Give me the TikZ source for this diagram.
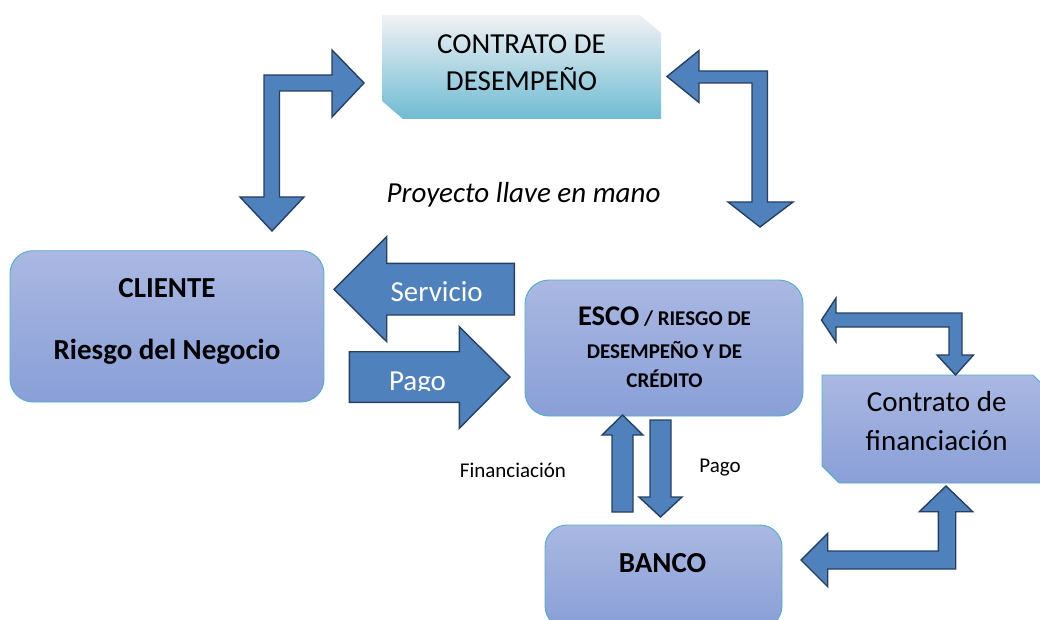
\documentclass[tikz,border=0pt]{standalone}
\usepackage{fontspec}
\setmainfont{Carlito}
\definecolor{arrowblue}{RGB}{79,129,189}
\definecolor{arrowedge}{RGB}{38,64,98}
\definecolor{boxtop}{RGB}{170,184,226}
\definecolor{boxbot}{RGB}{137,159,215}
\definecolor{boxedge}{RGB}{80,175,200}
\definecolor{ctop}{RGB}{241,242,244}
\definecolor{cmid}{RGB}{192,222,232}
\definecolor{cbot}{RGB}{111,187,211}
\tikzset{
  blockarrow/.style={fill=arrowblue, draw=arrowedge, line width=1.4pt, line join=miter},
  bluebox/.style={top color=boxtop, bottom color=boxbot, draw=boxedge, line width=0.9pt, inner sep=0pt},
  txt/.style={anchor=base, inner sep=0pt, font=\fontsize{29}{35}\selectfont},
  smalltxt/.style={anchor=base, inner sep=0pt, font=\fontsize{21}{25}\selectfont},
}
\begin{document}
\begin{tikzpicture}[x=1pt,y=-1pt]
\useasboundingbox (0,0) rectangle (1040,620);

% ---- boxes ----
\shade[top color=ctop, middle color=cmid, bottom color=cbot]
  (382,15) -- (640,15) -- (661,33) -- (661,119) -- (403,119) -- (382,101) -- cycle;
\node[bluebox, rounded corners=23pt, minimum width=314pt, minimum height=151.3pt] (cliente) at (167,326.35) {};
\node[bluebox, rounded corners=24pt, minimum width=278pt, minimum height=136pt] (esco) at (664,348) {};
\node[bluebox, rounded corners=22pt, minimum width=237pt, minimum height=103pt] (banco) at (663.5,576.5) {};
\path[top color=boxtop, bottom color=boxbot, draw=boxedge, line width=0.9pt]
  (822,375) -- (1033,375) -- (1050,392) -- (1050,483) -- (839,483) -- (822,466) -- cycle;

% ---- block arrows ----
% CLIENTE <-> CONTRATO DE DESEMPENO
\draw[blockarrow] (364,83) -- (332,50) -- (332,75) -- (264,75) -- (264,197) -- (240,197)
  -- (272,231) -- (304,197) -- (279.5,197) -- (279.5,91) -- (332,91) -- (332,117) -- cycle;
% CONTRATO DE DESEMPENO <-> ESCO
\draw[blockarrow] (667,76.5) -- (699,50.5) -- (699,71) -- (767.5,71) -- (767.5,202) -- (793,202)
  -- (760,227) -- (728,202) -- (752,202) -- (752,83) -- (699,83) -- (699,102.5) -- cycle;
% Servicio
\draw[blockarrow] (334,289.3) -- (386.7,236.7) -- (386.7,263.3) -- (514.3,263.3) -- (514.3,315)
  -- (386.7,315) -- (386.7,341.7) -- cycle;
% Pago
\draw[blockarrow] (349.3,351.7) -- (459.3,351.7) -- (459.3,326.7) -- (510,377) -- (459.3,428.3)
  -- (459.3,402.3) -- (349.3,402.3) -- cycle;
% Financiacion (up)
\draw[blockarrow] (622.5,415) -- (643,435) -- (633,435) -- (633,512) -- (612,512) -- (612,435)
  -- (602,435) -- cycle;
% Pago (down)
\draw[blockarrow] (660.5,517) -- (682,497) -- (671,497) -- (671,420) -- (650,420) -- (650,497)
  -- (639,497) -- cycle;
% ESCO <-> Contrato de financiacion
\draw[blockarrow] (821.5,320) -- (836,298) -- (836,313) -- (962,313) -- (962,355) -- (973.5,355)
  -- (955.5,375) -- (937,355) -- (949,355) -- (949,327) -- (836,327) -- (836,342) -- cycle;
% BANCO <-> Contrato de financiacion
\draw[blockarrow] (801,560) -- (827.7,533.3) -- (827.7,551) -- (938.3,551) -- (938.3,511.7)
  -- (919.3,511.7) -- (946,486) -- (972.7,511.7) -- (955.7,511.7) -- (955.7,569) -- (827.7,569)
  -- (827.7,586.7) -- cycle;

% ---- texts ----
\node[txt] (cd1) at (521.5,53.3) {CONTRATO DE};
\node[txt] (cd2) at (521.5,90.7) {DESEMPEÑO};
\node[txt, font=\fontsize{29}{35}\selectfont\itshape] (llave) at (523.5,203) {Proyecto llave en mano};
\node[txt, font=\fontsize{29}{35}\selectfont\bfseries] (cl1) at (167,297) {CLIENTE};
\node[txt, font=\fontsize{29}{35}\selectfont\bfseries] (cl2) at (167,359) {Riesgo del Negocio};
\node[txt, text=white] (serv) at (436.7,301.7) {Servicio};
\begin{scope}
  \clip (370,330) rectangle (470,390.6);
  \node[txt, text=white] (pagoa) at (417.5,390) {Pago};
\end{scope}
\node[smalltxt, font=\bfseries] (es1) at (664.5,325.5)
  {{\fontsize{28.5}{34}\selectfont ESCO}{\fontsize{21}{25}\selectfont\ / RIESGO DE}};
\node[smalltxt, font=\fontsize{21}{25}\selectfont\bfseries] (es2) at (664.5,358) {DESEMPEÑO Y DE};
\node[smalltxt, font=\fontsize{21}{25}\selectfont\bfseries] (es3) at (664.5,387.6) {CRÉDITO};
\node[txt] (cf1) at (936.7,411.7) {Contrato de};
\node[txt] (cf2) at (936.7,450) {financiación};
\node[txt, font=\fontsize{29}{35}\selectfont\bfseries] (bco) at (662.5,572.7) {BANCO};
\node[smalltxt] (fin) at (513,477) {Financiación};
\node[smalltxt] (pagob) at (720,472) {Pago};
\end{tikzpicture}
\end{document}
